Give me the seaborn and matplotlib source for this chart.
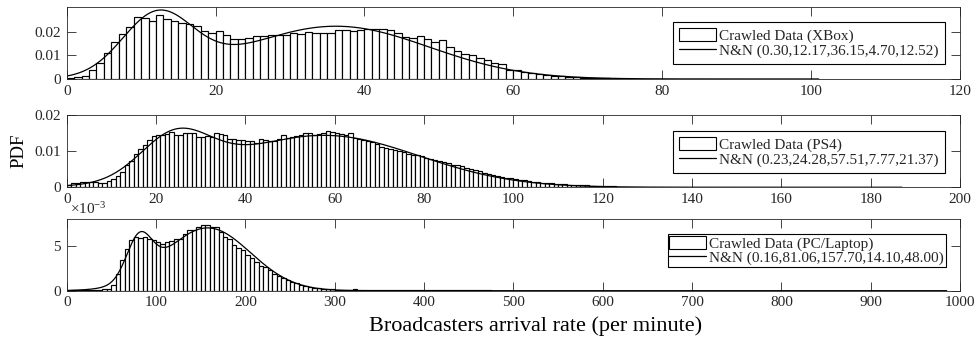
import numpy as np
import pandas as pd
import matplotlib
matplotlib.use("Agg")
import matplotlib.pyplot as plt
from matplotlib.patches import Patch
from matplotlib.lines import Line2D
import seaborn as sns

sns.set_style("ticks")
plt.rcParams["font.family"] = ["Liberation Serif", "DejaVu Serif"]
plt.rcParams["mathtext.fontset"] = "custom"
plt.rcParams["mathtext.rm"] = "Liberation Serif"
plt.rcParams["mathtext.it"] = "Liberation Serif:italic"

# ---------------- data ----------------
xbox_bin_width = 1
xbox_pdf = [
    0.0005, 0.0008, 0.0013, 0.0036, 0.0066, 0.0110, 0.0155, 0.0190, 0.0220, 0.0260,
    0.0258, 0.0247, 0.0270, 0.0252, 0.0245, 0.0238, 0.0234, 0.0224, 0.0203, 0.0193,
    0.0201, 0.0185, 0.0171, 0.0171, 0.0172, 0.0180, 0.0180, 0.0185, 0.0188, 0.0188,
    0.0193, 0.0192, 0.0197, 0.0194, 0.0194, 0.0194, 0.0206, 0.0208, 0.0201, 0.0206,
    0.0211, 0.0213, 0.0212, 0.0205, 0.0194, 0.0178, 0.0175, 0.0180, 0.0168, 0.0155,
    0.0166, 0.0137, 0.0120, 0.0104, 0.0100, 0.0088, 0.0080, 0.0068, 0.0062, 0.0040,
    0.0036, 0.0029, 0.0025, 0.0021, 0.0017, 0.0014, 0.0011, 0.0010, 0.0007, 0.0006,
    0.0004, 0.0003, 0.0003, 0.0002, 0.00015, 0.00012, 0.0001, 0.0001, 0.00008, 0.00007,
    0.00006, 0.00005, 0.00005, 0.00004, 0.00004, 0.00003, 0.00003, 0.00003, 0.00002, 0.00002,
    0.00002, 0.00002, 0.00002, 0.00001, 0.00001, 0.00001, 0.00001, 0.00001, 0.00001, 0.00001,
    0.00001,
]

ps4_bin_width = 1
ps4_pdf = [
    0.0007, 0.0012, 0.0013, 0.0014, 0.0014, 0.0014, 0.0015, 0.0012, 0.0012, 0.0017,
    0.0022, 0.0030, 0.0042, 0.0062, 0.0074, 0.0091, 0.0105, 0.0116, 0.0132, 0.0143,
    0.0144, 0.0145, 0.0148, 0.0153, 0.0145, 0.0145, 0.0150, 0.0150, 0.0149, 0.0138,
    0.0140, 0.0141, 0.0138, 0.0149, 0.0148, 0.0144, 0.0134, 0.0134, 0.0130, 0.0130,
    0.0128, 0.0129, 0.0123, 0.0134, 0.0131, 0.0128, 0.0128, 0.0133, 0.0146, 0.0137,
    0.0139, 0.0141, 0.0146, 0.0150, 0.0149, 0.0145, 0.0147, 0.0151, 0.0156, 0.0153,
    0.0151, 0.0147, 0.0146, 0.0151, 0.0137, 0.0133, 0.0131, 0.0128, 0.0125, 0.0121,
    0.0111, 0.0110, 0.0107, 0.0104, 0.0100, 0.0097, 0.0093, 0.0090, 0.0088, 0.0086,
    0.0080, 0.0078, 0.0076, 0.0073, 0.0070, 0.0066, 0.0063, 0.0061, 0.0058, 0.0053,
    0.0050, 0.0047, 0.0044, 0.0040, 0.0037, 0.0034, 0.0031, 0.0029, 0.0027, 0.0025,
    0.0023, 0.0021, 0.0019, 0.0017, 0.0016, 0.0014, 0.0013, 0.0012, 0.0011, 0.0010,
    0.0009, 0.0008, 0.0007, 0.0007, 0.0006, 0.0005, 0.0005, 0.0004, 0.0004, 0.0003,
    0.0003, 0.0003, 0.00025, 0.0002, 0.0002, 0.00018, 0.00015, 0.00012, 0.0001, 0.0001,
    0.00008, 0.00008, 0.00007, 0.00007, 0.00006, 0.00006, 0.00005, 0.00005, 0.00005, 0.00004,
    0.00004, 0.00004, 0.00004, 0.00003, 0.00003, 0.00003, 0.00003, 0.00003, 0.00003, 0.00002,
    0.00002, 0.00002, 0.00002, 0.00002, 0.00002, 0.00002, 0.00002, 0.00002, 0.00002, 0.00002,
    0.00001, 0.00001, 0.00001, 0.00001, 0.00001, 0.00001, 0.00001, 0.00001, 0.00001, 0.00001,
    0.00001, 0.00001, 0.00001, 0.00001, 0.00001, 0.00001, 0.00001, 0.00001, 0.00001, 0.00001,
    0.00001, 0.00001, 0.00001, 0.00001, 0.00001, 0.00001, 0.00001,
]

pc_bin_width = 5
pc_pdf = [
    0.00002, 0.00003, 0.00004, 0.00005, 0.00006, 0.00008, 0.0001, 0.00012, 0.00015, 0.0002,
    0.0006, 0.0019, 0.0034, 0.0046, 0.0056, 0.0060, 0.0059, 0.0060, 0.0058, 0.0056,
    0.0054, 0.0052, 0.0054, 0.0055, 0.0057, 0.0058, 0.0063, 0.0067, 0.0068, 0.0071,
    0.0073, 0.0073, 0.0071, 0.0071, 0.0065, 0.0060, 0.0057, 0.0051, 0.0047, 0.0045,
    0.0040, 0.0036, 0.0032, 0.0028, 0.0026, 0.0023, 0.0019, 0.0016, 0.0014, 0.0012,
    0.0010, 0.0009, 0.0006, 0.0005, 0.0004, 0.0003, 0.00025, 0.0002, 0.00018, 0.00015,
    0.00012, 0.0001, 0.0001, 0.0001, 0.00015, 0.0001, 0.00008, 0.00008, 0.00007, 0.0001,
    0.00006, 0.00006, 0.00005, 0.00005, 0.00005, 0.00005, 0.00004, 0.00004, 0.00004, 0.00004,
    0.00004, 0.00004, 0.00003, 0.00003, 0.00003, 0.00003, 0.00003, 0.00003, 0.00003, 0.00003,
    0.00003, 0.00003, 0.00003, 0.00003, 0.00003, 0.00002, 0.00002, 0.00002, 0.00002, 0.00002,
    0.00002, 0.00002, 0.00002, 0.00002, 0.00002, 0.00002, 0.00002, 0.00002, 0.00002, 0.00002,
    0.00002, 0.00002, 0.00002, 0.00002, 0.00002, 0.00002, 0.00002, 0.00002, 0.00002, 0.00002,
    0.00001, 0.00001, 0.00001, 0.00001, 0.00001, 0.00001, 0.00001, 0.00001, 0.00001, 0.00001,
    0.00001, 0.00001, 0.00001, 0.00001, 0.00001, 0.00001, 0.00001, 0.00001, 0.00001, 0.00001,
    0.00001, 0.00001, 0.00001, 0.00001, 0.00001, 0.00001, 0.00001, 0.00001, 0.00001, 0.00001,
    0.00001, 0.00001, 0.00001, 0.00001, 0.00001, 0.00001, 0.00001, 0.00001, 0.00001, 0.00001,
    0.00001, 0.00001, 0.00001, 0.00001, 0.00001, 0.00001, 0.00001, 0.00001, 0.00001, 0.00001,
    0.00001, 0.00001, 0.00001, 0.00001, 0.00001, 0.00001, 0.00001, 0.00001, 0.00001, 0.00001,
    0.00001, 0.00001, 0.00001, 0.00001, 0.00001, 0.00001, 0.00001, 0.00001, 0.00001, 0.00001,
    0.00001, 0.00001, 0.00001, 0.00001, 0.00001, 0.00001, 0.00001,
]

# fitted N&N parameters as printed in the legends: (w, mu1, mu2, sigma1, sigma2)
xbox_nn = [0.30, 12.17, 36.15, 4.70, 12.52]
ps4_nn = [0.23, 24.28, 57.51, 7.77, 21.37]
pc_nn = [0.16, 81.06, 157.70, 14.10, 48.00]

hist_labels = ["Crawled Data (XBox)", "Crawled Data (PS4)", "Crawled Data (PC/Laptop)"]
fit_labels = ["N&N (0.30,12.17,36.15,4.70,12.52)",
              "N&N (0.23,24.28,57.51,7.77,21.37)",
              "N&N (0.16,81.06,157.70,14.10,48.00)"]

xbox_xticks = [0, 20, 40, 60, 80, 100, 120]
ps4_xticks = [0, 20, 40, 60, 80, 100, 120, 140, 160, 180, 200]
pc_xticks = [0, 100, 200, 300, 400, 500, 600, 700, 800, 900, 1000]
xbox_yticks = [0, 0.01, 0.02]
ps4_yticks = [0, 0.01, 0.02]
pc_yticks = [0, 0.005]
xbox_yticklabels = ["0", "0.01", "0.02"]
ps4_yticklabels = ["0", "0.01", "0.02"]
pc_yticklabels = ["0", "5"]

x_label = "Broadcasters arrival rate (per minute)"
y_label = "PDF"

# ---------------- figure ----------------
W, H = 979, 337
fig = plt.figure(figsize=(W / 100, H / 100), dpi=100)
fig.patch.set_facecolor("white")

AX_L, AX_R = 66.7, 960.0
panel_px = [(7.3, 79.0), (115.0, 187.3), (219.0, 290.7)]
legend_px = [(945.0, 21.7), (945.0, 130.7), (945.7, 234.0)]
ylims = [(0, 0.0303), (0, 0.02), (0, 0.00797)]
xlims = [(0, 120), (0, 200), (0, 1000)]
borderpads = [0.42, 0.42, 0.12]

panels = [
    (xbox_pdf, xbox_bin_width, xbox_nn, xbox_xticks, xbox_yticks, xbox_yticklabels),
    (ps4_pdf, ps4_bin_width, ps4_nn, ps4_xticks, ps4_yticks, ps4_yticklabels),
    (pc_pdf, pc_bin_width, pc_nn, pc_xticks, pc_yticks, pc_yticklabels),
]

axcol = "#262626"


def nn_pdf(x, p):
    w, m1, m2, s1, s2 = p
    g1 = np.exp(-0.5 * ((x - m1) / s1) ** 2) / (s1 * np.sqrt(2 * np.pi))
    g2 = np.exp(-0.5 * ((x - m2) / s2) ** 2) / (s2 * np.sqrt(2 * np.pi))
    return w * g1 + (1 - w) * g2


for i, (vals, bw, nn, xt, yt, ytl) in enumerate(panels):
    top, bot = panel_px[i]
    ax = fig.add_axes([AX_L / W, 1 - bot / H, (AX_R - AX_L) / W, (bot - top) / H])
    n = len(vals)
    centers = (np.arange(n) + 0.5) * bw
    df = pd.DataFrame({"x": centers, "pdf": vals})
    sns.histplot(data=df, x="x", weights="pdf", binwidth=bw, binrange=(0, n * bw),
                 stat="count", color="white", edgecolor="black", linewidth=0.85,
                 alpha=1.0, ax=ax)
    xs = np.linspace(0, n * bw, 1500)
    cdf = pd.DataFrame({"x": xs, "y": nn_pdf(xs, nn)})
    sns.lineplot(data=cdf, x="x", y="y", color="black", linewidth=0.9, ax=ax)

    ax.set_xlim(*xlims[i])
    ax.set_ylim(*ylims[i])
    ax.set_xticks(xt)
    ax.set_xticklabels([str(t) for t in xt])
    ax.set_yticks(yt)
    ax.set_yticklabels(ytl)
    ax.set_xlabel("")
    ax.set_ylabel("")
    ax.tick_params(direction="in", length=6.5, width=0.6, top=True, right=True,
                   labelsize=11, colors=axcol, pad=4)
    for s in ax.spines.values():
        s.set_visible(True)
        s.set_linewidth(0.6)
        s.set_color(axcol)

    lx, ly = legend_px[i]
    handles = [Patch(facecolor="white", edgecolor="black", linewidth=0.8),
               Line2D([], [], color="black", linewidth=0.9)]
    leg = ax.legend(handles, [hist_labels[i], fit_labels[i]],
                    loc="upper right",
                    bbox_to_anchor=((lx - AX_L) / (AX_R - AX_L), 1 - (ly - top) / (bot - top)),
                    fontsize=11, frameon=True, fancybox=False, framealpha=1,
                    edgecolor="black", labelspacing=0.0, handlelength=2.4,
                    handleheight=0.9, handletextpad=0.2, borderpad=borderpads[i],
                    borderaxespad=0.0)
    leg.get_frame().set_linewidth(0.8)

    if i == 2:
        ax.text(0.004, 1.07, r"$\times10^{-3}$", transform=ax.transAxes,
                ha="left", va="baseline", fontsize=11, color=axcol)

fig.text(19 / W, 1 - 151 / H, y_label, rotation=90, ha="center", va="center",
         fontsize=13.5, color="black")
fig.text(536 / W, 1 - 330.5 / H, x_label, ha="center", va="baseline",
         fontsize=16, color="black")

fig.savefig("out.png", dpi=100, facecolor="white")
